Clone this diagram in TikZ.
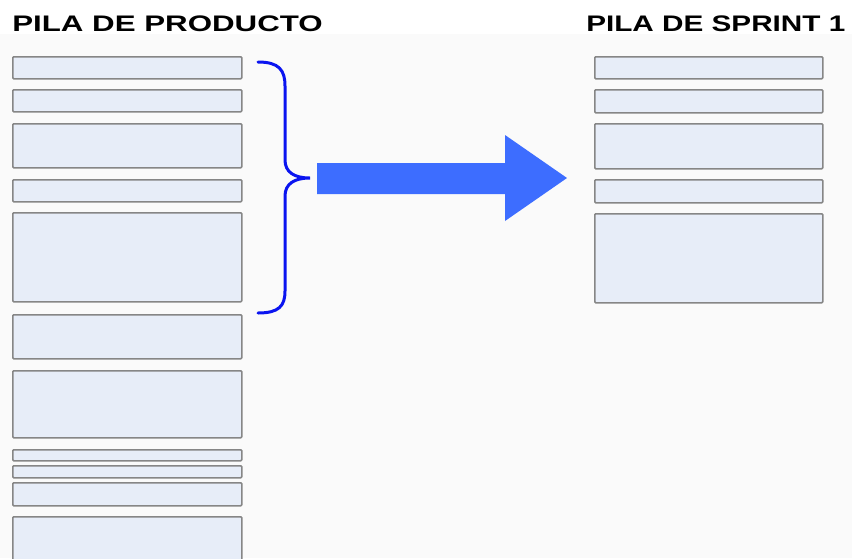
\documentclass[tikz,border=0pt]{standalone}
\usepackage{fontspec}
\setmainfont{Liberation Sans}
\usepackage{tikz}
\usetikzlibrary{positioning}
\usepackage{xcolor}
\definecolor{itemFill}{HTML}{E7EDF8}
\definecolor{itemEdge}{HTML}{868686}
\definecolor{braceBlue}{HTML}{0A14F0}
\definecolor{arrowBlue}{HTML}{3D6DFF}
\definecolor{pageBg}{HTML}{FAFAFA}

\begin{document}
\begin{tikzpicture}[x=1pt, y=-1pt,
        title/.style={anchor=base west, inner sep=0pt, font=\fontsize{22.5}{24}\selectfont\bfseries},
        item/.style={rectangle, anchor=north west, draw=itemEdge, fill=itemFill, line width=1.6pt, rounded corners=1pt, inner sep=0pt},
        bracket/.style={draw=braceBlue, line width=3pt, line cap=round}
      ]
      \useasboundingbox (0,0) rectangle (852,558);
      \clip (0,0) rectangle (852,558);
      \fill[pageBg] (0,34) rectangle (852,558);

      \node[title, xscale=1.39] (prodTitle) at (12,31) {PILA DE PRODUCTO};
      \node[title, xscale=1.32] (sprintTitle) at (586,31) {PILA DE SPRINT 1};

      % pila de producto
      \foreach \t/\h [count=\i] in {56/22, 89/22, 123/44, 179/22, 212/89, 314/44, 370/67, 449/11, 465/12, 482/23, 516/50} {
         \node[item, minimum width=229pt, minimum height=\h pt] (p\i) at (12,\t) {};
      }
      % pila de sprint 1
      \foreach \t/\h [count=\i] in {56/22, 89/23, 123/45, 179/23, 213/89} {
         \node[item, minimum width=228pt, minimum height=\h pt] (s\i) at (594,\t) {};
      }

      % llave y flecha
      \coordinate (braceTip) at (310,178);
      \draw[bracket] (258,62) .. controls (279,62) and (285,70) .. (285,86) -- (285,160)
         .. controls (285,172) and (294,178) .. (braceTip)
         .. controls (294,178) and (285,184) .. (285,196) -- (285,291)
         .. controls (285,306) and (279,313) .. (258,313);
      \fill[arrowBlue] (317,163) -- (505,163) -- (505,135) -- (567,178) -- (505,221) -- (505,194) -- (317,194) -- cycle;
    \end{tikzpicture}
\end{document}
